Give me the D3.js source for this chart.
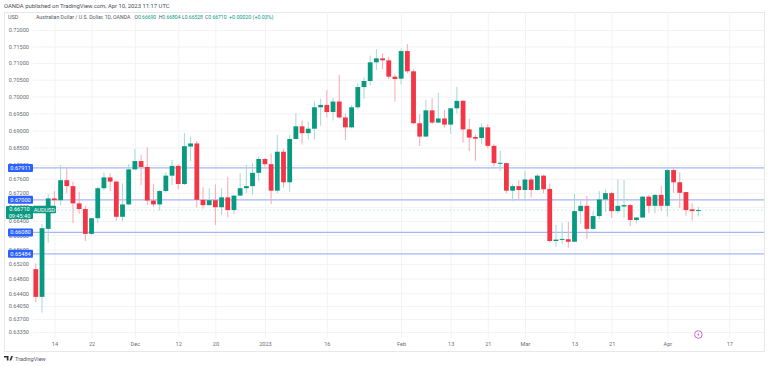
<!DOCTYPE html>
<html><head><meta charset="utf-8">
<style>html,body{margin:0;padding:0;background:#fff;overflow:hidden}svg{display:block}text{font-family:Roboto,"Noto Sans",sans-serif}</style>
<script src="https://cdnjs.cloudflare.com/ajax/libs/d3/7.8.5/d3.min.js"></script>
</head><body><svg id="c" width="768" height="366"></svg>
<script>
const opens=[.6506,.6430,.6618,.6704,.6699,.6756,.6739,.6690,.6674,.6604,.6648,.6733,.6764,.6752,.6652,.6687,.6787,.6811,.6794,.6698,.6687,.6725,.6769,.6797,.6745,.6853,.6862,.6700,.6685,.6699,.6679,.6707,.6671,.6712,.6733,.6739,.6777,.6817,.6802,.6726,.6838,.6750,.6875,.6912,.6892,.6905,.6968,.6975,.6954,.6985,.6938,.6909,.6968,.7028,.7046,.7102,.7114,.7108,.7059,.7053,.7136,.7075,.6921,.6882,.6959,.6923,.6935,.6917,.6965,.6987,.6903,.6881,.6878,.6909,.6855,.6803,.6805,.6726,.6739,.6728,.6758,.6728,.6769,.6731,.6584,.6588,.6589,.6582,.6668,.6683,.6618,.6654,.6701,.6719,.6668,.6681,.6685,.6643,.6650,.6709,.6683,.6714,.6683,.6785,.6750,.6722,.6673,.6669];
const highs=[.6522,.6632,.6716,.6725,.6799,.6793,.6752,.6723,.6683,.6649,.6738,.6778,.6776,.6754,.6747,.6802,.6846,.6829,.6851,.6744,.6728,.6779,.6814,.6802,.6892,.6882,.6869,.6736,.6733,.6744,.6733,.6766,.6714,.6776,.6800,.6805,.6823,.6820,.6833,.6887,.6846,.6887,.6951,.6929,.6926,.6985,.6993,.7019,.6996,.7064,.6950,.6975,.7039,.7057,.7122,.7142,.7129,.7119,.7066,.7144,.7157,.7081,.6948,.6990,.6995,.7011,.6960,.6967,.7029,.6990,.6935,.6887,.6921,.6918,.6860,.6841,.6807,.6745,.6756,.6783,.6764,.6774,.6771,.6747,.6629,.6636,.6638,.6717,.6697,.6711,.6668,.6725,.6730,.6723,.6759,.6757,.6688,.6651,.6711,.6714,.6716,.6739,.6790,.6793,.6779,.6723,.6690,.66804];
const lows=[.6415,.6387,.6579,.6683,.6685,.6719,.6634,.6661,.6584,.6601,.6634,.6727,.6725,.6641,.6640,.6685,.6785,.6742,.6685,.6680,.6669,.6721,.6742,.6730,.6742,.6811,.6678,.6675,.6683,.6629,.6657,.6650,.6660,.6711,.6719,.6714,.6754,.6795,.6688,.6719,.6735,.6723,.6874,.6859,.6874,.6874,.6914,.6938,.6929,.6935,.6872,.6906,.6962,.6993,.7032,.7079,.7081,.7051,.6985,.7036,.7069,.6918,.6855,.6882,.6918,.6921,.6909,.6890,.6950,.6864,.6840,.6812,.6860,.6848,.6795,.6782,.6719,.6697,.6702,.6697,.6707,.6726,.6719,.6580,.6568,.6575,.6566,.6582,.6632,.6590,.6615,.6646,.6666,.6649,.6662,.6649,.6626,.6634,.6648,.6662,.6662,.6669,.6653,.6720,.6676,.6655,.6641,.66528];
const closes=[.6430,.6620,.6704,.6699,.6756,.6739,.6690,.6674,.6604,.6648,.6733,.6764,.6752,.6652,.6687,.6787,.6811,.6794,.6698,.6687,.6725,.6769,.6797,.6745,.6854,.6862,.6700,.6685,.6699,.6679,.6707,.6671,.6712,.6733,.6739,.6777,.6817,.6802,.6726,.6838,.6750,.6875,.6912,.6892,.6905,.6968,.6975,.6954,.6985,.6938,.6909,.6968,.7028,.7046,.7102,.7114,.7108,.7059,.7052,.7136,.7075,.6921,.6882,.6959,.6923,.6935,.6917,.6965,.6987,.6903,.6879,.6876,.6909,.6855,.6805,.6806,.6726,.6739,.6728,.6758,.6728,.6769,.6730,.6584,.6588,.6590,.6582,.6668,.6683,.6618,.6654,.6701,.6719,.6668,.6683,.6685,.6643,.6650,.6709,.6683,.6714,.6683,.6785,.6750,.6720,.6671,.6668,.6671];
const priceTicks=[.72,.715,.71,.705,.70,.695,.69,.685,.68,.676,.672,.668,.664,.66,.656,.652,.648,.644,.6405,.637,.6335];
const levels=[.67911,.67,.6608,.65484];
const timeTickBars=[3,9,16,23,29,37,47,59,67,73,79,87,93,102,112];
const timeTickLabels=["14","22","Dec","12","20","2023","16","Feb","13","21","Mar","13","21","Apr","17"];
const lastPrice=.6671;

const UP="#089981",DOWN="#f23645",L=33,R=764,T=12,B=338;
const y=d3.scaleLog().domain([.72,.6335]).range([30,332]);
const x=d3.scaleLinear().domain([3,112]).range([54.4,729.3]);
const svg=d3.select("#c");

svg.append("rect").attr("x",4.5).attr("y",12.5).attr("width",760).attr("height",339).attr("fill","none").attr("stroke","#e6e8ee");

const ay=svg.append("g").attr("transform",`translate(${L},0)`).call(
  d3.axisLeft(y).tickValues(priceTicks).tickSize(-(R-L)).tickPadding(4).tickFormat(d3.format(".5f")));
const ax=svg.append("g").attr("transform",`translate(0,${B})`).call(
  d3.axisBottom(x).tickValues(timeTickBars).tickSize(-(B-T)).tickPadding(4).tickFormat(d=>timeTickLabels[timeTickBars.indexOf(d)]));
[ay,ax].forEach(g=>{g.select(".domain").remove();g.selectAll("line").attr("stroke","#f2f3f7");
  g.selectAll("text").attr("fill","#6a6d78").attr("font-size",5.6);});

svg.append("g").selectAll("line").data(levels).join("line")
  .attr("x1",L-4).attr("x2",R).attr("y1",d=>y(d)).attr("y2",d=>y(d)).attr("stroke","#a5b6f7").attr("stroke-width",1.2);
svg.append("line").attr("x1",L).attr("x2",R).attr("y1",y(lastPrice)).attr("y2",y(lastPrice))
  .attr("stroke","#c4e6df").attr("stroke-dasharray","2 2").attr("stroke-width",.8);

const candles=svg.append("g").selectAll("g").data(opens.map((o,i)=>i)).join("g");
candles.append("line").attr("x1",i=>x(i)).attr("x2",i=>x(i)).attr("y1",i=>y(highs[i])).attr("y2",i=>y(lows[i]))
  .attr("stroke",i=>closes[i]>=opens[i]?"#a6dad0":"#f9a8ae").attr("stroke-width",1);
candles.append("rect").attr("x",i=>x(i)-2.4).attr("width",4.8)
  .attr("y",i=>y(Math.max(opens[i],closes[i])))
  .attr("height",i=>Math.max(1,Math.abs(y(opens[i])-y(closes[i]))))
  .attr("fill",i=>closes[i]>=opens[i]?UP:DOWN);

function tag(x0,w,yc,h,fill,lines){
  svg.append("rect").attr("x",x0).attr("y",yc-h/2).attr("width",w).attr("height",h).attr("rx",1).attr("fill",fill);
  lines.forEach((t,k)=>svg.append("text").attr("x",x0+w/2).attr("y",yc+2-(lines.length-1)*3.2+k*6.4)
    .attr("text-anchor","middle").attr("fill","#fff").attr("font-size",5.6).text(t));
}
levels.forEach(v=>tag(8,25,y(v),8,"#2962ff",[d3.format(".5f")(v)]));
tag(6,27,y(lastPrice)+2.5,13,UP,[d3.format(".5f")(lastPrice),"09:45:40"]);
tag(33,23,y(lastPrice)-.5,7.5,UP,["AUDUSD"]);

svg.append("text").attr("x",4).attr("y",8).attr("fill","#4a4d57").attr("font-size",5.9).text("OANDA published on TradingView.com, Apr 10, 2023 11:17 UTC");
svg.append("text").attr("x",8).attr("y",19).attr("fill","#555863").attr("font-size",5.4).text("USD");
svg.append("text").attr("x",36).attr("y",19).attr("fill","#555863").attr("font-size",5.2).text("Australian Dollar / U.S. Dollar, 1D, OANDA");
[["O","0.66690",134.5],["H","0.66804",158.7],["L","0.66528",182],["C","0.66710",205]].forEach(([a,b,px])=>{
  const t=svg.append("text").attr("x",px).attr("y",19).attr("font-size",5);
  t.append("tspan").attr("fill","#555863").text(a);
  t.append("tspan").attr("fill",UP).text(b);
});
svg.append("text").attr("x",229).attr("y",19).attr("font-size",5.3).attr("fill",UP).text("+0.00020 (+0.03%)");

const mx=x(107),my=334.5;
svg.append("circle").attr("cx",mx).attr("cy",my).attr("r",3.8).attr("fill","#fff").attr("stroke","#c653d8").attr("stroke-width",.9);
svg.append("path").attr("transform",`translate(${mx},${my})`).attr("d","M.8-2.2L-1.2.3H0L-.8 2.2L1.2-.3H0Z").attr("fill","#c653d8");

svg.append("path").attr("d","M4 356H8.5V360.5H6.8V357.5H4ZM9.5 360.5L11.2 356H13L11.2 360.5Z").attr("fill","#2a2e39");
svg.append("text").attr("x",15).attr("y",360.5).attr("fill","#555863").attr("font-size",5.6).text("TradingView");
</script></body></html>
